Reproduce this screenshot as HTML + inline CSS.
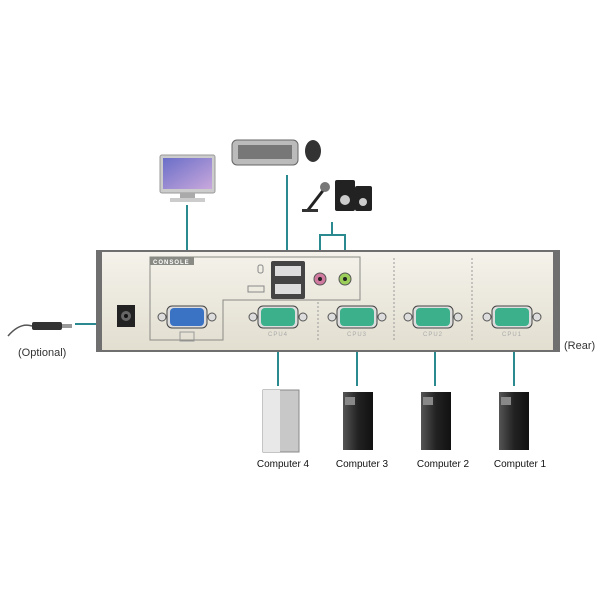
<!DOCTYPE html>
<html><head><style>body{margin:0;background:#fff}svg{display:block}text{font-family:"Liberation Sans",sans-serif}</style></head><body>
<svg width="600" height="600" viewBox="0 0 600 600" xmlns="http://www.w3.org/2000/svg">
<defs>
<linearGradient id="pan" x1="0" y1="0" x2="0" y2="1"><stop offset="0" stop-color="#f4f2ea"/><stop offset="1" stop-color="#e2ded0"/></linearGradient>
<linearGradient id="scr" x1="0" y1="0" x2="1" y2="1"><stop offset="0" stop-color="#6a6ec8"/><stop offset="1" stop-color="#c9a8dc"/></linearGradient>
<linearGradient id="tw" x1="0" y1="0" x2="1" y2="0"><stop offset="0" stop-color="#555"/><stop offset=".5" stop-color="#222"/><stop offset="1" stop-color="#111"/></linearGradient>
<g id="vga"><circle cx="-25" cy="0" r="4" fill="#ddd" stroke="#555"/><circle cx="25" cy="0" r="4" fill="#ddd" stroke="#555"/><rect x="-20" y="-11" width="40" height="22" rx="5" fill="#ddd" stroke="#444"/></g>
</defs>
<g stroke="#2a8a8f" stroke-width="2" fill="none">
<line x1="187" y1="205" x2="187" y2="312"/>
<line x1="287" y1="175" x2="287" y2="251"/>
<polyline points="320,251 320,235 345,235 345,251"/>
<line x1="332" y1="222" x2="332" y2="235"/>
<line x1="278" y1="352" x2="278" y2="386"/>
<line x1="357" y1="352" x2="357" y2="386"/>
<line x1="435" y1="352" x2="435" y2="386"/>
<line x1="514" y1="352" x2="514" y2="386"/>
<line x1="75" y1="324" x2="97" y2="324"/>
</g>
<rect x="96" y="250" width="464" height="102" fill="#6f6f6f"/>
<rect x="102" y="252" width="451" height="98" fill="url(#pan)"/>
<g fill="none" stroke="#8a8a85" stroke-width="1">
<path d="M150,257 H360 V300 H223 V340 H150 Z"/>
</g>
<rect x="150" y="257" width="44" height="8" fill="#8a8a85"/>
<text x="153" y="264" font-size="6" fill="#fff" font-weight="bold" letter-spacing="1">CONSOLE</text>
<g stroke="#999" stroke-dasharray="2,2"><line x1="318" y1="302" x2="318" y2="340"/><line x1="394" y1="258" x2="394" y2="340"/><line x1="472" y1="258" x2="472" y2="340"/></g>
<rect x="117" y="305" width="18" height="22" fill="#222"/><circle cx="126" cy="316" r="5" fill="#666"/><circle cx="126" cy="316" r="2" fill="#111"/>
<rect x="271" y="261" width="34" height="38" rx="2" fill="#444"/>
<rect x="275" y="266" width="26" height="10" fill="#ddd"/><rect x="275" y="284" width="26" height="10" fill="#ddd"/>
<rect x="258" y="265" width="5" height="8" rx="2" fill="none" stroke="#888"/>
<rect x="248" y="286" width="16" height="6" fill="none" stroke="#888"/>
<circle cx="320" cy="279" r="6" fill="#d07aa0" stroke="#555"/><circle cx="320" cy="279" r="2" fill="#222"/>
<circle cx="345" cy="279" r="6" fill="#9ccf5a" stroke="#555"/><circle cx="345" cy="279" r="2" fill="#222"/>
<g transform="translate(187,317)"><use href="#vga"/><rect x="-17" y="-9" width="34" height="18" rx="4" fill="#3b73c4"/></g>
<rect x="180" y="332" width="14" height="9" fill="none" stroke="#999"/>
<g fill="#3bb08a">
<g transform="translate(278,317)"><use href="#vga"/><rect x="-17" y="-9" width="34" height="18" rx="4"/></g>
<g transform="translate(357,317)"><use href="#vga"/><rect x="-17" y="-9" width="34" height="18" rx="4"/></g>
<g transform="translate(433,317)"><use href="#vga"/><rect x="-17" y="-9" width="34" height="18" rx="4"/></g>
<g transform="translate(512,317)"><use href="#vga"/><rect x="-17" y="-9" width="34" height="18" rx="4"/></g>
</g>
<g font-size="6" fill="#aaa" text-anchor="middle" letter-spacing="1"><text x="278" y="336">CPU4</text><text x="357" y="336">CPU3</text><text x="433" y="336">CPU2</text><text x="512" y="336">CPU1</text></g>
<path d="M8,336 Q20,322 32,326" stroke="#555" fill="none" stroke-width="1.5"/>
<rect x="32" y="322" width="30" height="8" rx="2" fill="#333"/><rect x="62" y="324" width="10" height="4" fill="#999"/>
<text x="18" y="356" font-size="11" fill="#333">(Optional)</text>
<text x="564" y="349" font-size="11" fill="#333">(Rear)</text>
<rect x="160" y="155" width="55" height="38" rx="2" fill="#ccc" stroke="#999"/><rect x="163" y="158" width="49" height="31" fill="url(#scr)"/>
<rect x="180" y="193" width="15" height="5" fill="#aaa"/><rect x="170" y="198" width="35" height="4" fill="#ccc"/>
<rect x="232" y="140" width="66" height="25" rx="5" fill="#bbb" stroke="#666"/><rect x="238" y="145" width="54" height="14" fill="#777"/>
<ellipse cx="313" cy="151" rx="8" ry="11" fill="#333"/>
<line x1="308" y1="210" x2="325" y2="188" stroke="#222" stroke-width="3"/><circle cx="325" cy="187" r="5" fill="#777"/><rect x="302" y="209" width="16" height="3" fill="#333"/>
<rect x="335" y="180" width="20" height="31" rx="2" fill="#222"/><circle cx="345" cy="200" r="5" fill="#ccc"/>
<rect x="355" y="186" width="17" height="25" rx="2" fill="#222"/><circle cx="363" cy="202" r="4" fill="#ccc"/>
<rect x="263" y="390" width="36" height="62" fill="#c8c8c8" stroke="#888"/><rect x="263" y="390" width="17" height="62" fill="#e8e8e8"/>
<rect x="343" y="392" width="30" height="58" fill="url(#tw)"/><rect x="345" y="397" width="10" height="8" fill="#888"/>
<rect x="421" y="392" width="30" height="58" fill="url(#tw)"/><rect x="423" y="397" width="10" height="8" fill="#888"/>
<rect x="499" y="392" width="30" height="58" fill="url(#tw)"/><rect x="501" y="397" width="10" height="8" fill="#888"/>
<g font-size="10" fill="#111" text-anchor="middle"><text x="283" y="467">Computer 4</text><text x="362" y="467">Computer 3</text><text x="443" y="467">Computer 2</text><text x="520" y="467">Computer 1</text></g>
</svg>
</body></html>
